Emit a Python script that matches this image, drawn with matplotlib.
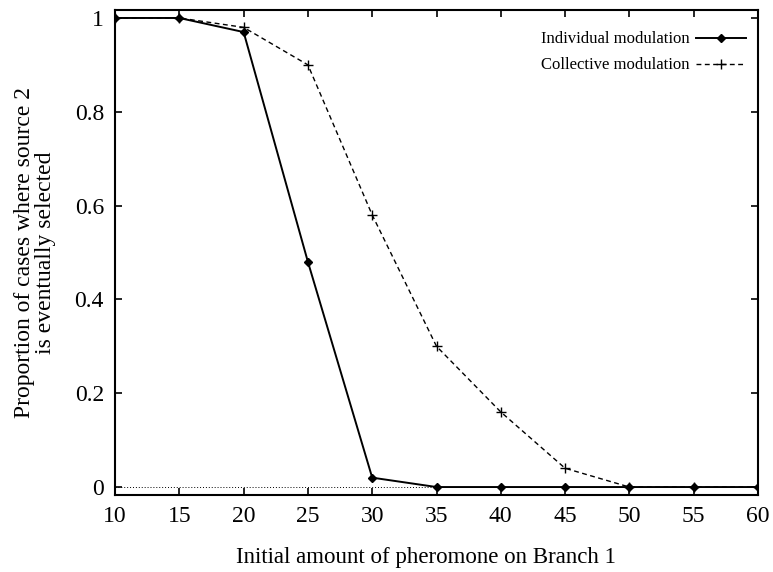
import matplotlib
matplotlib.use("Agg")
import matplotlib.pyplot as plt
from matplotlib.ticker import FixedLocator, FuncFormatter

# initial pheromone on branch 1 vs. proportion of runs selecting source 2
pheromone = [10, 15, 20, 25, 30, 35, 40, 45, 50, 55, 60]
individual = [1.0, 1.0, 0.97, 0.48, 0.02, 0.0, 0.0, 0.0, 0.0, 0.0, 0.0]
collective = [1.0, 1.0, 0.98, 0.90, 0.58, 0.30, 0.16, 0.04, 0.0, 0.0, 0.0]

x_ticks = [10, 15, 20, 25, 30, 35, 40, 45, 50, 55, 60]
y_ticks = [0, 0.2, 0.4, 0.6, 0.8, 1.0]

plt.rcParams["font.family"] = ["Liberation Serif", "DejaVu Serif"]

fig = plt.figure(figsize=(7.73, 5.72), dpi=100)
ax = fig.add_axes([0.1488, 0.1346, 0.8318, 0.8479])

ax.axhline(0, color="black", ls=(0, (1, 2)), lw=0.7, zorder=1)
ax.plot(pheromone, individual, color="black", lw=1.4, marker="D", ms=4.5,
        mfc="black", label="Individual modulation", zorder=3)
ax.plot(pheromone, collective, color="black", lw=1.0, ls=(0, (3.5, 2.5)),
        marker="+", ms=7, mew=1.0, label="Collective modulation", zorder=2)

ax.set_xlim(10, 60)
ax.set_ylim(-0.017, 1.017)
ax.xaxis.set_major_locator(FixedLocator(x_ticks))
ax.yaxis.set_major_locator(FixedLocator(y_ticks))
ax.yaxis.set_major_formatter(FuncFormatter(lambda v, _: f"{v:g}"))
ax.tick_params(direction="in", length=5, width=1.2, top=True, right=True,
               labelsize=17, pad=8)
for s in ax.spines.values():
    s.set_linewidth(1.5)

ax.set_xlabel("Initial amount of pheromone on Branch 1", fontsize=16.5,
              labelpad=14)
ax.xaxis.label.set_x(0.483)
ax.set_ylabel("Proportion of cases where source 2\nis eventually selected",
              fontsize=17, labelpad=13, linespacing=1.0)

ax.legend(loc="upper right", bbox_to_anchor=(1.0, 0.98), frameon=False,
          markerfirst=False, fontsize=12, handlelength=3.0,
          handletextpad=0.4, borderaxespad=0.3, labelspacing=0.6)

fig.savefig("out.png", dpi=100)
